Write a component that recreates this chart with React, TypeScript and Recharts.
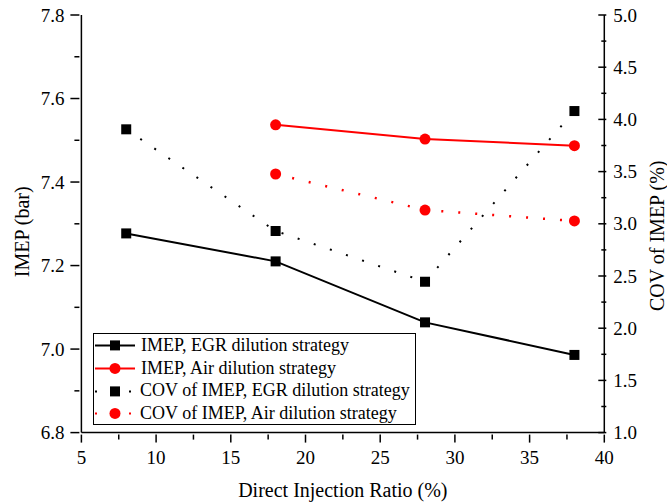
import React from 'react';
import { ComposedChart, Line, XAxis, YAxis, Legend, Label } from 'recharts';

// direct injection ratio (%) for each measured point
const egrRatios = [8, 18, 28, 38];
const airRatios = [18, 28, 38];

// IMEP (bar), left axis
const imepEgr = [7.277, 7.21, 7.064, 6.986];
const imepAir = [7.537, 7.503, 7.487];

// COV of IMEP (%), right axis
const covEgr = [3.905, 2.931, 2.445, 4.08];
const covAir = [3.477, 3.132, 3.027];

const xTicks = [5, 7.5, 10, 12.5, 15, 17.5, 20, 22.5, 25, 27.5, 30, 32.5, 35, 37.5, 40];
const imepTicks = [6.8, 6.9, 7.0, 7.1, 7.2, 7.3, 7.4, 7.5, 7.6, 7.7, 7.8];
const covTicks = [1, 1.25, 1.5, 1.75, 2, 2.25, 2.5, 2.75, 3, 3.25, 3.5, 3.75, 4, 4.25, 4.5, 4.75, 5];

const FONT = '"Liberation Serif", "Times New Roman", serif';
const RED = '#ff0000';
const DOTTED = '2 15';

const toPoints = (xs: number[], ys: number[]) => xs.map((x, i) => ({ x, y: ys[i] }));

const imepEgrData = toPoints(egrRatios, imepEgr);
const imepAirData = toPoints(airRatios, imepAir);
const covEgrData = toPoints(egrRatios, covEgr);
const covAirData = toPoints(airRatios, covAir);

const legendItems = [
  { name: 'IMEP, EGR dilution strategy', color: '#000', dash: undefined, shape: 'square' },
  { name: 'IMEP, Air dilution strategy', color: RED, dash: undefined, shape: 'circle' },
  { name: 'COV of IMEP, EGR dilution strategy', color: '#000', dash: DOTTED, shape: 'square' },
  { name: 'COV of IMEP, Air dilution strategy', color: RED, dash: DOTTED, shape: 'circle' },
];

const squareDot = (props: any) => {
  const { cx, cy } = props;
  if (cx == null || cy == null) return <g key={`s-${props.index}`} />;
  return <rect key={`s-${props.index}`} x={cx - 5} y={cy - 5} width={10} height={10} fill="#000" />;
};

const circleDot = (props: any) => {
  const { cx, cy } = props;
  if (cx == null || cy == null) return <g key={`c-${props.index}`} />;
  return <circle key={`c-${props.index}`} cx={cx} cy={cy} r={5.5} fill={RED} />;
};

// left axis: ticks point outward, labels every 0.2
const ImepTick = (props: any) => {
  const { x, y, payload } = props;
  const v = payload.value;
  const major = Math.round(v * 10) % 2 === 0;
  return (
    <g>
      <line x1={x - (major ? 9 : 5)} x2={x} y1={y} y2={y} stroke="#000" strokeWidth={1.5} />
      {major && (
        <text x={x - 15} y={y} dy="0.35em" textAnchor="end" fontSize={19} fontFamily={FONT} fill="#000">
          {v.toFixed(1)}
        </text>
      )}
    </g>
  );
};

// right axis: ticks point into the plot, labels every 0.5
const CovTick = (props: any) => {
  const { x, y, payload } = props;
  const v = payload.value;
  const major = Math.round(v * 4) % 2 === 0;
  return (
    <g>
      <line x1={x} x2={x - (major ? 8 : 5)} y1={y} y2={y} stroke="#000" strokeWidth={1.5} />
      {major && (
        <text x={x + 7} y={y} dy="0.35em" textAnchor="start" fontSize={19} fontFamily={FONT} fill="#000">
          {v.toFixed(1)}
        </text>
      )}
    </g>
  );
};

const RatioTick = (props: any) => {
  const { x, y, payload } = props;
  const v = payload.value;
  const major = v % 5 === 0;
  return (
    <g>
      <line x1={x} x2={x} y1={y} y2={y + (major ? 8 : 5)} stroke="#000" strokeWidth={1.5} />
      {major && (
        <text x={x} y={y + 29} textAnchor="middle" fontSize={19} fontFamily={FONT} fill="#000">
          {v}
        </text>
      )}
    </g>
  );
};

const LegendBox = () => (
  <div style={{ fontFamily: FONT, fontSize: 18, color: '#000' }}>
    {legendItems.map((item) => (
      <div key={item.name} style={{ display: 'flex', alignItems: 'center', height: 22.8, whiteSpace: 'nowrap' }}>
        <svg width={47} height={22.8} style={{ flex: 'none' }}>
          <line x1={1} x2={41} y1={11.4} y2={11.4} stroke={item.color} strokeWidth={2} strokeDasharray={item.dash} />
          {item.shape === 'square' ? (
            <rect x={16} y={6.4} width={10} height={10} fill={item.color} />
          ) : (
            <circle cx={21} cy={11.4} r={5.5} fill={item.color} />
          )}
        </svg>
        <span style={{ marginLeft: item.dash ? -1 : 0 }}>{item.name}</span>
      </div>
    ))}
  </div>
);

const axisLine = { stroke: '#000', strokeWidth: 1.5 };

export default function App() {
  return (
    <div style={{ width: 667, height: 503, background: '#fff' }}>
      <style>{'body { margin: 0; background: #fff; }'}</style>
      <ComposedChart width={667} height={503} margin={{ top: 15, right: 0, bottom: 0, left: 0 }}>
        <XAxis
          xAxisId="x"
          type="number"
          dataKey="x"
          domain={[5, 40]}
          ticks={xTicks}
          interval={0}
          height={70.4}
          tickSize={0}
          tickLine={false}
          axisLine={axisLine}
          tick={RatioTick}
        >
          <Label
            content={(p: any) => {
              const vb = p.viewBox;
              return (
                <text
                  x={vb.x + vb.width / 2}
                  y={vb.y + 57}
                  textAnchor="middle"
                  dominantBaseline="central"
                  fontSize={20}
                  fontFamily={FONT}
                  fill="#000"
                >
                  Direct Injection Ratio (%)
                </text>
              );
            }}
          />
        </XAxis>
        <XAxis
          xAxisId="top"
          orientation="top"
          type="number"
          domain={[5, 40]}
          height={0}
          tick={false}
          tickLine={false}
          axisLine={axisLine}
        />
        <YAxis
          yAxisId="imep"
          type="number"
          domain={[6.8, 7.8]}
          ticks={imepTicks}
          interval={0}
          width={81.4}
          tickSize={0}
          tickLine={false}
          axisLine={axisLine}
          tick={ImepTick}
        >
          <Label
            content={(p: any) => {
              const vb = p.viewBox;
              const cx = vb.x + 22;
              const cy = vb.y + vb.height / 2 + 8;
              return (
                <text
                  x={cx}
                  y={cy}
                  transform={`rotate(-90 ${cx} ${cy})`}
                  textAnchor="middle"
                  dominantBaseline="central"
                  fontSize={20}
                  fontFamily={FONT}
                  fill="#000"
                >
                  IMEP (bar)
                </text>
              );
            }}
          />
        </YAxis>
        <YAxis
          yAxisId="cov"
          orientation="right"
          type="number"
          domain={[1, 5]}
          ticks={covTicks}
          interval={0}
          width={62.7}
          tickSize={0}
          tickLine={false}
          axisLine={axisLine}
          tick={CovTick}
        >
          <Label
            content={(p: any) => {
              const vb = p.viewBox;
              const cx = vb.x + 52.7;
              const cy = vb.y + vb.height / 2 + 12;
              return (
                <text
                  x={cx}
                  y={cy}
                  transform={`rotate(-90 ${cx} ${cy})`}
                  textAnchor="middle"
                  dominantBaseline="central"
                  fontSize={20}
                  fontFamily={FONT}
                  fill="#000"
                >
                  COV of IMEP (%)
                </text>
              );
            }}
          />
        </YAxis>

        <Line
          data={imepEgrData}
          dataKey="y"
          xAxisId="x"
          yAxisId="imep"
          name="IMEP, EGR dilution strategy"
          stroke="#000"
          strokeWidth={2}
          dot={squareDot}
          activeDot={false}
          isAnimationActive={false}
        />
        <Line
          data={imepAirData}
          dataKey="y"
          xAxisId="x"
          yAxisId="imep"
          name="IMEP, Air dilution strategy"
          stroke={RED}
          strokeWidth={2}
          dot={circleDot}
          activeDot={false}
          isAnimationActive={false}
        />
        <Line
          data={covEgrData}
          dataKey="y"
          xAxisId="x"
          yAxisId="cov"
          name="COV of IMEP, EGR dilution strategy"
          stroke="#000"
          strokeWidth={2}
          strokeDasharray={DOTTED}
          dot={squareDot}
          activeDot={false}
          isAnimationActive={false}
        />
        <Line
          data={covAirData}
          dataKey="y"
          xAxisId="x"
          yAxisId="cov"
          name="COV of IMEP, Air dilution strategy"
          stroke={RED}
          strokeWidth={2.5}
          strokeDasharray={DOTTED}
          dot={circleDot}
          activeDot={false}
          isAnimationActive={false}
        />

        <Legend
          layout="vertical"
          align="center"
          verticalAlign="middle"
          content={LegendBox}
          wrapperStyle={{
            left: 93,
            top: 333,
            width: 323,
            height: 92,
            border: '1px solid #000',
            boxSizing: 'border-box',
            background: '#fff',
          }}
        />
      </ComposedChart>
    </div>
  );
}
